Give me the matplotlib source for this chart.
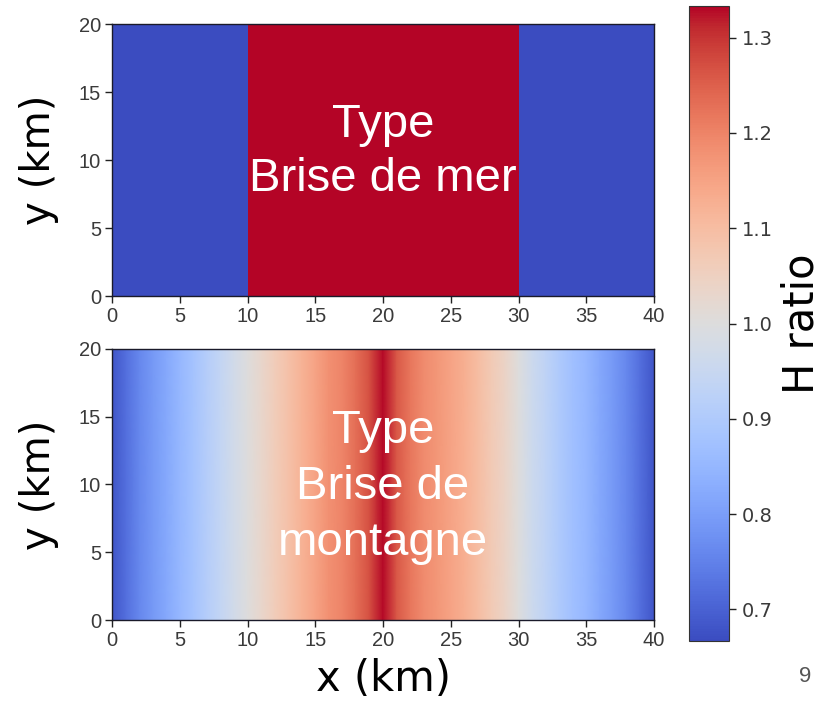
import numpy as np
import matplotlib
matplotlib.use('Agg')
import matplotlib.pyplot as plt

# 刻度与注释用 Arial 风格字体，轴标题用 DejaVu Sans
TICK_FONT = ['Liberation Sans', 'DejaVu Sans']
LABEL_FONT = ['DejaVu Sans']
NOTE_FONT = ['Liberation Sans', 'DejaVu Sans']

# ---------------- 数据 ----------------
# 上图：海风型，x 方向分段常数
sea_x_edges = [0, 10, 30, 40]          # km
sea_h_ratio = [2 / 3, 4 / 3, 2 / 3]

# 下图：山风型，每 1 km 一个剖面值
mount_x = list(range(0, 41))           # km
mount_h_ratio = [0.68, 0.72, 0.76, 0.79, 0.82, 0.85, 0.88, 0.91, 0.94, 0.97,
                 1.00, 1.03, 1.06, 1.09, 1.12, 1.15, 1.18, 1.20, 1.23, 1.27,
                 1.33,
                 1.26, 1.22, 1.19, 1.17, 1.15, 1.13, 1.10, 1.07, 1.04, 1.00,
                 0.96, 0.93, 0.90, 0.87, 0.85, 0.82, 0.79, 0.76, 0.72, 0.68]
y_edges = [0, 20]                      # km

x_ticks = [0, 5, 10, 15, 20, 25, 30, 35, 40]
y_ticks = [0, 5, 10, 15, 20]
cbar_ticks = [0.7, 0.8, 0.9, 1.0, 1.1, 1.2, 1.3]
vmin, vmax = 2 / 3, 4 / 3

W, H = 823, 707
fig = plt.figure(figsize=(W / 100, H / 100), dpi=100)

ax_top = fig.add_axes([112 / W, 1 - 296 / H, 542 / W, 272 / H])
ax_bot = fig.add_axes([112 / W, 1 - 620 / H, 542 / W, 271 / H])
cax = fig.add_axes([689 / W, 1 - 641 / H, 40 / W, 635 / H])

# 上图
C_top = np.array([sea_h_ratio])
ax_top.pcolormesh(sea_x_edges, y_edges, C_top, cmap='coolwarm',
                  vmin=vmin, vmax=vmax, shading='flat')

# 下图：gouraud 着色，沿 y 不变
XX, YY = np.meshgrid(mount_x, y_edges)
C_bot = np.vstack([mount_h_ratio, mount_h_ratio])
mesh = ax_bot.pcolormesh(XX, YY, C_bot, cmap='coolwarm',
                         vmin=vmin, vmax=vmax, shading='gouraud')

for ax in (ax_top, ax_bot):
    ax.set_xlim(0, 40)
    ax.set_ylim(0, 20)
    ax.set_xticks(x_ticks)
    ax.set_yticks(y_ticks)
    ax.tick_params(direction='out', length=5, width=1, color='#222222',
                   labelsize=14.5, labelcolor='#3a3a3a', pad=3)
    for lbl in ax.get_xticklabels() + ax.get_yticklabels():
        lbl.set_fontfamily(TICK_FONT)
    for sp in ax.spines.values():
        sp.set_color('#1a1a2a')
        sp.set_linewidth(1.0)
    ax.set_ylabel('y (km)', fontsize=29, family=LABEL_FONT, labelpad=14)

ax_bot.set_xlabel('x (km)', fontsize=30, family=LABEL_FONT, labelpad=6)

# 色标
cb = fig.colorbar(mesh, cax=cax, ticks=cbar_ticks)
cb.ax.tick_params(length=5, width=1, color='#222222', labelsize=14,
                  labelcolor='#3a3a3a', pad=4)
for lbl in cb.ax.get_yticklabels():
    lbl.set_fontfamily(['DejaVu Sans'])
cb.outline.set_edgecolor('#333333')
cb.set_label('H ratio', fontsize=30, family=LABEL_FONT, labelpad=6)

# 图内文字
ax_top.text(20, 10.6, 'Type\nBrise de mer', color='white', fontsize=34,
            family=NOTE_FONT, ha='center', va='center', linespacing=1.3)
ax_bot.text(20, 9.8, 'Type\nBrise de\nmontagne', color='white', fontsize=34,
            family=NOTE_FONT, ha='center', va='center', linespacing=1.36)

# 页码
fig.text(805 / W, 1 - 677 / H, '9', fontsize=16, color='#555555',
         family=['Liberation Sans'], ha='center', va='center')

fig.savefig('out.png', dpi=100)
